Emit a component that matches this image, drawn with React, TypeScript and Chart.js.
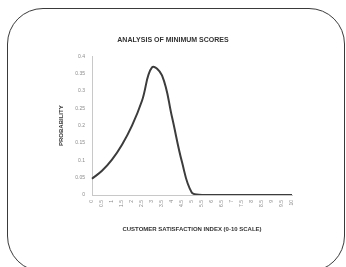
import React, { useEffect, useRef } from "react";
import { Chart, registerables } from "chart.js";

Chart.register(...registerables);

const xLabels = ["0","0.5","1","1.5","2","2.5","3","3.5","4","4.5","5","5.5","6","6.5","7","7.5","8","8.5","9","9.5","10"];
const probability = [0.047, 0.07, 0.102, 0.145, 0.2, 0.272, 0.368, 0.345, 0.225, 0.095, 0.006, 0, 0, 0, 0, 0, 0, 0, 0, 0, 0];
const yTicks = { min: 0, max: 0.4, step: 0.05 };
const titleText = "ANALYSIS OF MINIMUM SCORES";
const yTitle = "PROBABILITY";
const xTitle = "CUSTOMER SATISFACTION INDEX (0-10 SCALE)";

export default function App() {
  const ref = useRef<HTMLCanvasElement>(null);
  useEffect(() => {
    if (!ref.current) return;
    const font = "'Liberation Sans', Arial, sans-serif";
    const chart = new Chart(ref.current, {
      type: "line",
      data: {
        labels: xLabels,
        datasets: [
          {
            data: probability,
            borderColor: "#3c3c3c",
            borderWidth: 2,
            pointRadius: 0,
            fill: false,
            tension: 0.4,
          },
        ],
      },
      options: {
        animation: false,
        responsive: false,
        maintainAspectRatio: false,
        layout: { padding: { left: 54, right: 54, top: 34, bottom: 30 } },
        plugins: {
          legend: { display: false },
          tooltip: { enabled: false },
          title: {
            display: true,
            text: titleText,
            color: "#333",
            font: { family: font, size: 7, weight: "bold" },
            padding: { top: 2, bottom: 12 },
          },
        },
        scales: {
          x: {
            grid: { display: false, drawTicks: false },
            border: { display: true, color: "#c8c8c8" },
            ticks: {
              color: "#8a8a8a",
              font: { family: font, size: 5 },
              maxRotation: 90,
              minRotation: 90,
              autoSkip: false,
              padding: 5,
            },
            title: {
              display: true,
              text: xTitle,
              color: "#333",
              font: { family: font, size: 6, weight: "bold" },
              padding: { top: 2, bottom: 4 },
            },
            afterFit: (s: any) => {
              s.height = 42;
            },
          },
          y: {
            min: yTicks.min,
            max: yTicks.max,
            grid: { display: false, drawTicks: false },
            border: { display: true, color: "#c8c8c8" },
            ticks: {
              stepSize: yTicks.step,
              color: "#8a8a8a",
              font: { family: font, size: 5 },
              padding: 7,
              callback: (v: any) => String(+Number(v).toFixed(2)),
            },
            title: {
              display: true,
              text: yTitle,
              color: "#333",
              font: { family: font, size: 6, weight: "bold" },
              padding: { top: 4, bottom: 2 },
            },
            afterFit: (s: any) => {
              s.width = 38;
            },
          },
        },
      },
    });
    return () => chart.destroy();
  }, []);
  return (
    <div>
      <div
        style={{
          position: "fixed",
          left: 7,
          top: 8,
          width: 338,
          height: 264,
          boxSizing: "border-box",
          border: "1.5px solid #3a3a3a",
          borderRadius: 36,
          background: "#fff",
        }}
      />
      <canvas
        ref={ref}
        width={346}
        height={267}
        style={{ position: "fixed", left: 0, top: 0, width: 346, height: 267 }}
      />
    </div>
  );
}
